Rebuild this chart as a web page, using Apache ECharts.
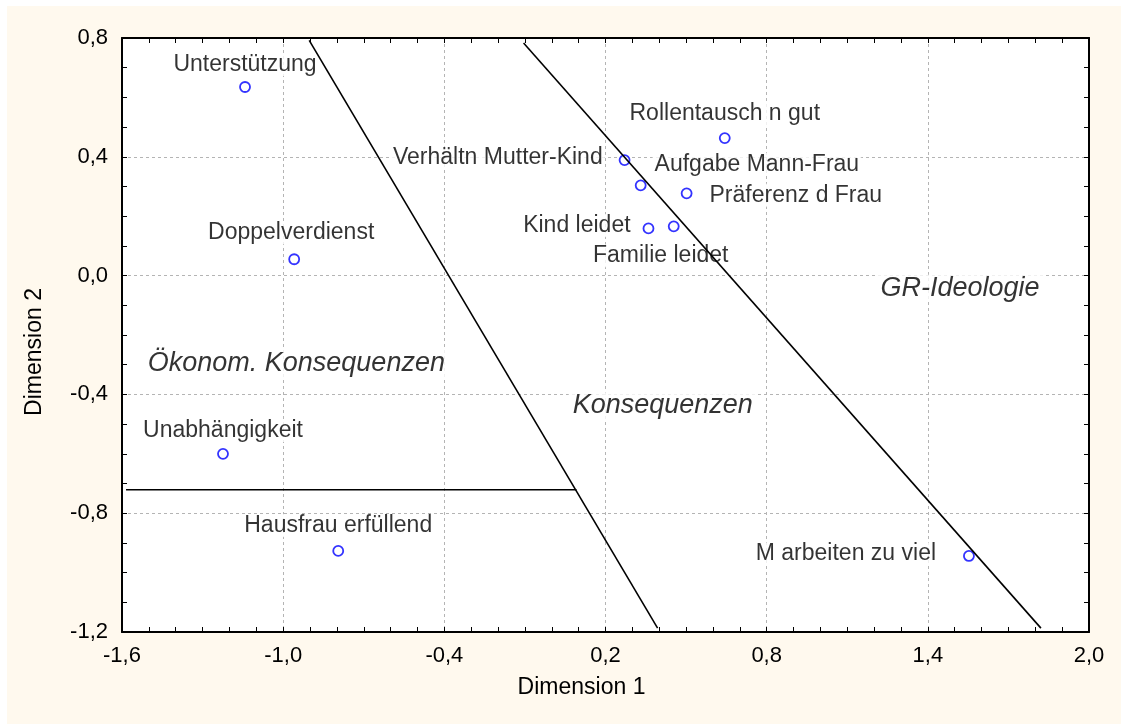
<!DOCTYPE html>
<html>
<head>
<meta charset="utf-8">
<script src="https://cdn.jsdelivr.net/npm/echarts@6/dist/echarts.min.js"></script>
<style>
  html, body { margin: 0; padding: 0; background: #fff; }
  #chart { position: absolute; left: 7px; top: 6px; width: 1114px; height: 718px; }
</style>
</head>
<body>
<div id="chart"></div>
<script>
// item coordinates (Dimension 1 / Dimension 2)
const itemNames = ['Unterstützung', 'Doppelverdienst', 'Unabhängigkeit', 'Hausfrau erfüllend',
  'Rollentausch n gut', 'Verhältn Mutter-Kind', 'Aufgabe Mann-Frau', 'Präferenz d Frau',
  'Kind leidet', 'Familie leidet', 'M arbeiten zu viel'];
const dim1 = [-1.142, -0.959, -1.224, -0.795, 0.644, 0.271, 0.331, 0.502, 0.360, 0.454, 1.553];
const dim2 = [0.635, 0.055, -0.600, -0.927, 0.463, 0.389, 0.304, 0.277, 0.159, 0.166, -0.944];

// region names and where they sit
const regionNames = ['Ökonom. Konsequenzen', 'Konsequenzen', 'GR-Ideologie'];
const regionDim1 = [-0.951, 0.413, 1.520];
const regionDim2 = [-0.296, -0.438, -0.043];

// separating lines drawn in the plot
const line1 = [[-0.903, 0.792], [0.394, -1.187]];
const line2 = [[-0.105, 0.783], [1.821, -1.187]];
const line3 = [[-1.585, -0.721], [0.092, -0.721]];

// where each item label goes
const labelPlace = {
  'Unterstützung': { position: 'top', distance: 5 },
  'Doppelverdienst': { position: 'top', distance: 9, offset: [-3, 0] },
  'Unabhängigkeit': { position: 'top', distance: 6 },
  'Hausfrau erfüllend': { position: 'top', distance: 8 },
  'Rollentausch n gut': { position: 'top', distance: 7 },
  'Verhältn Mutter-Kind': { position: 'left', distance: 14, offset: [0, -2] },
  'Aufgabe Mann-Frau': { position: 'right', distance: 6, offset: [0, -21] },
  'Präferenz d Frau': { position: 'right', distance: 15, offset: [0, 2] },
  'Kind leidet': { position: 'left', distance: 10, offset: [0, -3] },
  'Familie leidet': { position: 'bottom', distance: 12, offset: [-13, 0] },
  'M arbeiten zu viel': { position: 'left', distance: 25, offset: [0, -2] }
};

const FONT = '"Liberation Sans", Arial, sans-serif';
const fmt = v => (Math.round(v * 10) / 10).toFixed(1).replace('.', ',');

const chart = echarts.init(document.getElementById('chart'));

const points = itemNames.map((n, i) => {
  const p = labelPlace[n];
  return {
    name: n,
    value: [dim1[i], dim2[i]],
    label: { position: p.position, distance: p.distance, offset: p.offset || [0, 0] }
  };
});

const regions = regionNames.map((n, i) => ({ name: n, value: [regionDim1[i], regionDim2[i]] }));

function frameAxis(pos, isX) {
  return {
    type: 'value',
    position: pos,
    min: isX ? -1.6 : -1.2,
    max: isX ? 2.0 : 0.8,
    interval: isX ? 0.6 : 0.4,
    axisLine: { show: true, onZero: false, lineStyle: { color: '#000', width: 2 } },
    axisTick: { show: true, inside: true, length: 5, lineStyle: { color: '#000', width: 1 } },
    minorTick: { show: true, splitNumber: isX ? 6 : 4, length: 5, lineStyle: { color: '#000', width: 1 } },
    axisLabel: { show: false },
    splitLine: { show: false }
  };
}

const option = {
  backgroundColor: '#FFF9EE',
  animation: false,
  textStyle: { fontFamily: FONT },
  grid: { left: 115, top: 32, right: 32, bottom: 92, show: true, backgroundColor: '#fff', borderWidth: 0 },
  xAxis: [
    {
      type: 'value',
      min: -1.6, max: 2.0, interval: 0.6,
      name: 'Dimension 1',
      nameLocation: 'middle',
      nameGap: 44,
      nameTextStyle: { fontSize: 23, color: '#000', fontFamily: FONT, padding: [0, 48, 0, 0] },
      axisLine: { onZero: false, lineStyle: { color: '#000', width: 2 } },
      axisTick: { inside: true, length: 5, lineStyle: { color: '#000' } },
      minorTick: { show: true, splitNumber: 6, length: 5, lineStyle: { color: '#000' } },
      axisLabel: { fontSize: 22, color: '#000', margin: 13, formatter: fmt, fontFamily: FONT },
      splitLine: { show: true, lineStyle: { color: '#b4b4b4', type: [3, 3], width: 1 } }
    },
    frameAxis('top', true)
  ],
  yAxis: [
    {
      type: 'value',
      min: -1.2, max: 0.8, interval: 0.4,
      name: 'Dimension 2',
      nameLocation: 'middle',
      nameGap: 76,
      nameTextStyle: { fontSize: 23, color: '#000', fontFamily: FONT, padding: [0, 34, 0, 0] },
      axisLine: { onZero: false, lineStyle: { color: '#000', width: 2 } },
      axisTick: { inside: true, length: 5, lineStyle: { color: '#000' } },
      minorTick: { show: true, splitNumber: 4, length: 5, lineStyle: { color: '#000' } },
      axisLabel: { fontSize: 22, color: '#000', margin: 14, formatter: fmt, fontFamily: FONT },
      splitLine: { show: true, lineStyle: { color: '#b4b4b4', type: [3, 3], width: 1 } }
    },
    frameAxis('right', false)
  ],
  series: [
    {
      type: 'scatter',
      z: 2,
      symbol: 'circle',
      symbolSize: 10,
      itemStyle: { color: '#fff', borderColor: '#0000FF', borderWidth: 1.8 },
      label: {
        show: true,
        formatter: '{b}',
        fontSize: 23,
        color: '#000',
        fontFamily: FONT,
        backgroundColor: '#fff',
        padding: [0, 2]
      },
      emphasis: { disabled: true },
      data: points
    },
    {
      type: 'scatter',
      z: 2,
      symbolSize: 0,
      label: {
        show: true,
        position: 'inside',
        formatter: '{b}',
        fontSize: 27,
        fontStyle: 'italic',
        color: '#000',
        fontFamily: FONT,
        backgroundColor: '#fff',
        padding: [0, 4]
      },
      emphasis: { disabled: true },
      data: regions
    },
    ...[line1, line2, line3].map(l => ({
      type: 'line',
      z: 5,
      symbol: 'none',
      silent: true,
      lineStyle: { color: '#000', width: 1.6 },
      data: l
    }))
  ]
};

chart.setOption(option);
</script>
</body>
</html>
